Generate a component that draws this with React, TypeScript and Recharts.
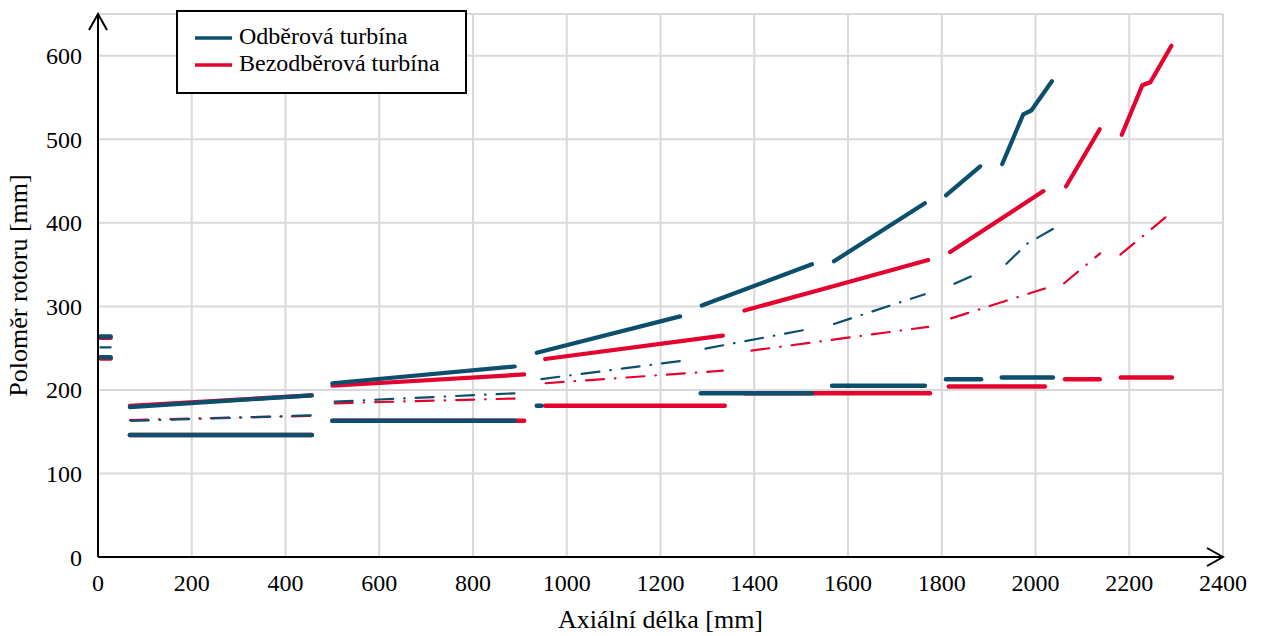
import { LineChart, Line, XAxis, YAxis, CartesianGrid, Legend } from "recharts";

type Pt = [number, number];

const xTicks = [0, 200, 400, 600, 800, 1000, 1200, 1400, 1600, 1800, 2000, 2200, 2400];
const yTicks = [0, 100, 200, 300, 400, 500, 600];

// obvod na špičce lopatek (plná silná čára)
const blueTip: Pt[][] = [
  [[68, 179.5], [456, 193.5]],
  [[500, 208], [889, 228]],
  [[936, 244.5], [1242, 288]],
  [[1288, 301], [1523, 350.5]],
  [[1570, 354], [1764, 423.5]],
  [[1809, 433], [1882, 467.5]],
  [[1929, 470.5], [1974, 530], [1991, 534.5], [2035, 569.5]],
];
const redTip: Pt[][] = [
  [[68, 181], [456, 193.5]],
  [[500, 205], [909, 218.5]],
  [[954, 237], [1333, 265]],
  [[1379, 295], [1580, 326], [1771, 355.5]],
  [[1818, 365], [2017, 438]],
  [[2065, 443.5], [2137, 512]],
  [[2184, 505.5], [2228, 564.7], [2245, 568.3], [2290, 612]],
];

// střední průměr (čerchovaná čára)
const blueMean: Pt[][] = [
  [[70, 163], [456, 169.5]],
  [[505, 186], [890, 196]],
  [[946, 213], [1242, 234.5]],
  [[1296, 249.5], [1523, 273.5]],
  [[1570, 279], [1764, 314.5]],
  [[1827, 327], [1883, 341]],
  [[1938, 351], [1982, 375], [2038, 393]],
];
const redMean: Pt[][] = [
  [[68, 164], [456, 169]],
  [[505, 184], [909, 190]],
  [[955, 208], [1333, 223]],
  [[1394, 247], [1771, 275.5]],
  [[1820, 285.7], [2020, 321.5]],
  [[2061, 327.7], [2138, 363.5]],
  [[2181, 362], [2240, 389], [2291, 413]],
];

// patní průměr
const blueHub: Pt[][] = [
  [[68, 146], [456, 146]],
  [[500, 163], [889, 163]],
  [[936, 181], [946, 181]],
  [[1286, 196], [1523, 196]],
  [[1566, 205], [1764, 205]],
  [[1809, 212.7], [1884, 212.7]],
  [[1928, 215], [2037, 215]],
];
const redHub: Pt[][] = [
  [[68, 146], [456, 146]],
  [[500, 163], [909, 163]],
  [[954, 181], [1337, 181]],
  [[1379, 196], [1775, 196]],
  [[1815, 204], [2020, 204]],
  [[2063, 212.7], [2137, 212.7]],
  [[2182, 215], [2291, 215]],
];

// regulační stupeň u osy
const blueStub: Pt[][] = [
  [[5, 264], [27, 264]],
  [[5, 239], [27, 239]],
];
const blueStubMean: Pt[][] = [[[5, 251], [27, 251]]];
const redStub: Pt[][] = [
  [[5, 262.5], [27, 262.5]],
  [[5, 237.5], [27, 237.5]],
];

const BLUE = "#0B4F6C";
const RED = "#E4032E";
const FONT = '"Liberation Serif", "Times New Roman", serif';

const toData = (seg: Pt[]) => seg.map(([x, y]) => ({ x, y }));

function renderSegs(segs: Pt[][], color: string, width: number, name: string, dash?: string) {
  return segs.map((seg, i) => (
    <Line
      key={`${name}-${i}`}
      data={toData(seg)}
      dataKey="y"
      type="linear"
      stroke={color}
      strokeWidth={width}
      strokeDasharray={dash}
      strokeLinecap="round"
      dot={false}
      activeDot={false}
      legendType="none"
      isAnimationActive={false}
    />
  ));
}

function LegendBox() {
  return (
    <svg width={291} height={84}>
      <rect x={1} y={1} width={289} height={82} fill="#fff" stroke="#000" strokeWidth={2} />
      <line x1={19} y1={28} x2={56} y2={28} stroke={BLUE} strokeWidth={3.5} />
      <text x={63} y={34} fontSize={24} fontFamily={FONT} fill="#000">
        Odběrová turbína
      </text>
      <line x1={19} y1={55} x2={56} y2={55} stroke={RED} strokeWidth={3.5} />
      <text x={63} y={61} fontSize={24} fontFamily={FONT} fill="#000">
        Bezodběrová turbína
      </text>
    </svg>
  );
}

const DASHDOT = "18 11 0.5 11";

export default function App() {
  return (
    <div style={{ position: "absolute", left: 0, top: 0, background: "#fff" }}>
      <svg width={0} height={0} style={{ position: "absolute" }}>
        <defs>
          <marker
            id="axisArrow"
            viewBox="0 0 20 20"
            refX={18}
            refY={10}
            markerWidth={20}
            markerHeight={20}
            markerUnits="userSpaceOnUse"
            orient="auto-start-reverse"
          >
            <path d="M2,1 L18,10 L2,19" fill="none" stroke="#000" strokeWidth={2} />
          </marker>
        </defs>
      </svg>
      <LineChart
        width={1264}
        height={636}
        margin={{ top: 14, right: 41, left: 0, bottom: 0 }}
        style={{ fontFamily: FONT }}
      >
        <CartesianGrid stroke="#D9D9D9" strokeWidth={2} />
        <XAxis
          type="number"
          dataKey="x"
          domain={[0, 2400]}
          ticks={xTicks}
          height={79}
          tickLine={false}
          tickSize={0}
          tickMargin={17}
          tick={{ fill: "#000", fontSize: 24, fontFamily: FONT }}
          axisLine={{ stroke: "#000", strokeWidth: 2, markerEnd: "url(#axisArrow)" }}
          label={{
            value: "Axiální délka [mm]",
            position: "insideBottom",
            offset: 8,
            fill: "#000",
            fontSize: 26,
            fontFamily: FONT,
          }}
        />
        <YAxis
          type="number"
          domain={[0, 650]}
          ticks={yTicks}
          width={98}
          tickLine={false}
          tickSize={0}
          tickMargin={16}
          tick={{ fill: "#000", fontSize: 24, fontFamily: FONT }}
          axisLine={{ stroke: "#000", strokeWidth: 2, markerStart: "url(#axisArrow)" }}
          label={{
            value: "Poloměr rotoru [mm]",
            angle: -90,
            position: "insideLeft",
            offset: 18,
            fill: "#000",
            fontSize: 26,
            fontFamily: FONT,
            style: { textAnchor: "middle" },
          }}
        />
        <Legend
          verticalAlign="middle"
          align="center"
          wrapperStyle={{ left: 176, top: 10, width: 291, height: 84 }}
          content={() => <LegendBox />}
        />
        {renderSegs(redHub, RED, 4.5, "rh")}
        {renderSegs(blueHub, BLUE, 4.5, "bh")}
        {renderSegs(redMean, RED, 2.2, "rm", DASHDOT)}
        {renderSegs(blueMean, BLUE, 2.2, "bm", DASHDOT)}
        {renderSegs(redTip, RED, 4.2, "rt")}
        {renderSegs(blueTip, BLUE, 4.2, "bt")}
        {renderSegs(redStub, RED, 4.5, "rs")}
        {renderSegs(blueStub, BLUE, 4.5, "bs")}
        {renderSegs(blueStubMean, BLUE, 2.2, "bsm")}
      </LineChart>
    </div>
  );
}
